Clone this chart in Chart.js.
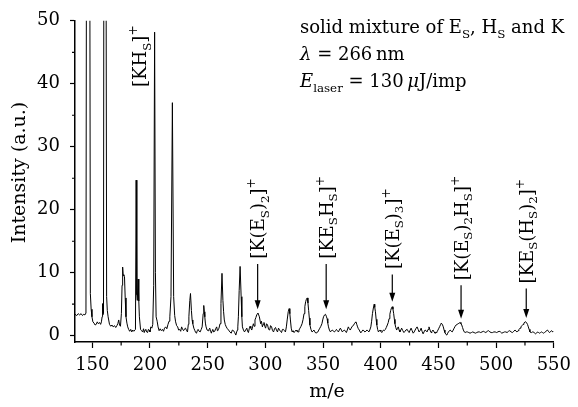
<!DOCTYPE html>
<html><head><meta charset="utf-8">
<script src="https://cdn.jsdelivr.net/npm/chart.js@4.4.1/dist/chart.umd.min.js"></script>
<style>html,body{margin:0;padding:0;background:#fff}#wrap{width:578px;height:407px}</style>
</head><body><div id="wrap"><canvas id="c" width="578" height="407"></canvas></div>
<script>
// ---- data ----
const xTicks = [150, 200, 250, 300, 350, 400, 450, 500, 550];
const xMinorTicks = [175, 225, 275, 325, 375, 425, 475, 525];
const yTicks = [0, 10, 20, 30, 40, 50];
const yMinorTicks = [5, 15, 25, 35, 45];

// [m/e, intensity] (off-scale peaks given as 100)
const spectrum = [
[135.0,3.4],[136.5,3.2],[137.8,3.5],[139.0,3.3],[140.3,3.5],[141.5,3.2],[142.6,3.4],[143.6,3.3],[144.5,3.6],
[145.2,100],[147.5,100],[148.3,6.7],[149.0,4.2],[149.7,3.0],[150.5,2.2],[151.5,2.0],[152.4,1.7],[153.4,1.8],
[154.3,2.2],[155.3,1.9],[156.3,2.1],[157.2,1.8],[157.9,2.2],[158.5,3.0],[158.9,5.1],[159.3,3.4],[159.7,3.5],
[160.2,100],[161.6,100],[162.4,6.2],[163.0,4.0],[163.7,3.0],[164.9,1.8],[166.0,1.5],[167.0,1.7],[168.1,1.4],
[169.2,1.6],[170.3,1.3],[171.3,1.6],[172.1,1.9],[172.9,2.5],[173.6,1.7],[174.4,1.5],[175.2,3.5],[175.8,8.0],
[176.3,10.9],[176.8,9.5],[177.3,9.7],[177.9,9.4],[178.5,6.0],[179.2,3.0],[180.0,2.0],[180.7,1.4],[181.5,1.0],
[182.4,0.7],[183.3,1.0],[184.2,0.6],[185.1,0.9],[186.0,0.7],[186.9,0.9],[187.4,1.0],[188.0,24.7],[188.6,6.5],
[189.0,5.6],[189.7,9.0],[190.3,5.5],[190.8,3.0],[191.8,1.0],[192.7,0.8],[193.6,0.6],[194.4,1.1],[195.0,0.5],
[195.8,0.9],[196.4,1.0],[197.1,0.6],[197.9,0.5],[198.6,1.0],[199.3,0.9],[200.0,0.6],[200.7,1.4],[201.6,1.2],
[202.4,1.8],[203.2,8.0],[204.0,48.2],[204.7,10.0],[205.3,3.0],[206.2,2.3],[207.0,1.4],[207.9,0.8],[208.8,1.1],
[209.8,0.8],[210.8,1.0],[211.7,0.7],[212.6,1.2],[213.6,1.4],[214.6,1.1],[215.6,1.8],[216.5,2.3],[217.2,3.0],
[218.2,6.2],[219.4,37.0],[220.5,6.2],[221.4,3.2],[222.2,2.2],[223.1,1.6],[224.0,1.4],[224.8,0.9],[225.7,1.0],
[226.6,0.7],[227.4,1.4],[228.3,1.0],[229.1,0.8],[230.0,1.1],[230.8,1.2],[231.7,0.8],[232.5,0.6],[233.2,1.8],
[233.7,3.0],[234.5,5.6],[235.1,6.7],[235.9,4.0],[236.5,2.5],[237.1,1.9],[238.0,1.2],[238.9,0.8],[239.6,0.5],
[240.3,0.4],[241.0,0.8],[241.7,1.0],[242.6,0.7],[243.5,0.6],[244.4,1.0],[245.2,1.4],[246.1,3.5],[246.6,4.8],
[247.1,3.8],[247.5,3.0],[248.0,2.0],[248.6,1.4],[249.5,0.9],[250.4,0.8],[251.1,1.0],[251.8,1.2],[252.5,0.7],
[253.2,0.4],[253.8,0.8],[254.4,1.0],[255.2,0.6],[256.1,0.7],[256.9,1.1],[257.8,1.4],[258.4,0.8],[258.9,0.9],
[259.8,1.2],[260.7,1.9],[261.5,5.1],[262.4,9.9],[263.2,5.6],[263.8,3.8],[264.4,2.5],[265.2,1.8],[266.1,1.4],
[267.1,1.1],[268.1,0.9],[269.2,0.6],[270.4,0.4],[271.4,0.9],[272.4,0.8],[273.4,0.5],[274.4,0.1],[275.1,0.6],
[275.8,0.9],[276.1,1.4],[276.6,3.0],[277.3,7.2],[278.1,11.0],[279.0,6.2],[279.6,3.0],[280.1,1.4],[281.0,0.9],
[281.9,0.6],[282.9,0.9],[283.9,1.2],[284.6,0.7],[285.3,0.5],[286.0,1.1],[286.7,1.5],[287.4,1.2],[288.2,0.9],
[288.9,1.4],[289.6,1.9],[290.3,1.5],[291.0,2.5],[291.8,2.9],[292.5,3.3],[293.6,3.6],[294.2,3.3],[294.8,3.0],
[295.9,1.9],[296.6,2.3],[297.4,1.4],[298.1,1.8],[298.8,2.1],[299.5,1.5],[300.2,1.2],[301.0,1.9],[301.9,1.7],
[302.8,1.0],[303.7,0.9],[304.5,1.6],[305.4,1.4],[306.2,0.8],[307.1,0.6],[307.9,1.1],[308.8,1.3],[309.6,0.9],
[310.5,0.6],[311.4,1.2],[312.3,0.9],[313.1,0.7],[314.0,0.5],[314.8,1.0],[315.7,1.0],[316.5,0.8],[317.4,0.6],
[318.2,1.4],[318.9,2.5],[319.8,3.8],[320.6,4.3],[321.2,3.5],[321.7,2.5],[322.4,1.2],[323.2,0.6],[324.0,0.8],
[324.9,0.5],[325.7,0.7],[326.6,0.9],[327.4,0.7],[328.3,0.6],[329.1,0.9],[330.0,1.2],[330.9,1.5],[331.8,1.9],
[332.7,2.6],[333.5,3.5],[334.2,4.6],[334.9,5.4],[335.6,5.8],[336.3,6.0],[336.9,5.2],[337.5,4.0],[338.1,2.8],
[338.6,1.7],[339.5,1.0],[340.4,0.6],[341.2,0.7],[342.1,0.9],[342.9,0.6],[343.8,0.4],[344.6,0.5],[345.5,0.6],
[346.3,0.9],[347.2,1.2],[348.1,1.5],[349.0,1.9],[349.7,2.5],[350.4,3.0],[351.3,3.3],[352.1,3.4],[352.8,3.1],
[353.5,2.7],[354.1,2.0],[354.7,1.4],[355.5,0.9],[356.4,0.6],[357.2,0.8],[358.1,0.9],[359.0,0.7],[359.9,0.6],
[360.8,0.8],[361.6,1.0],[362.4,0.8],[363.3,0.6],[364.1,0.9],[365.0,1.2],[365.9,0.9],[366.7,0.6],[367.6,0.8],
[368.5,0.9],[369.3,0.7],[370.2,0.5],[371.0,0.9],[371.9,1.4],[372.7,1.1],[373.6,0.9],[374.4,1.2],[375.3,1.5],
[376.2,1.6],[377.1,1.9],[377.8,2.1],[378.5,2.2],[379.2,1.8],[379.9,1.4],[380.6,1.1],[381.4,0.9],[382.1,0.6],
[382.8,0.5],[383.7,0.7],[384.5,0.9],[385.4,0.8],[386.2,0.6],[387.1,0.7],[388.0,0.9],[388.8,0.8],[389.7,0.6],
[390.5,0.9],[391.4,1.4],[392.1,2.3],[392.8,3.5],[393.6,4.4],[394.3,5.0],[394.8,4.5],[395.4,3.8],[396.0,2.6],
[396.6,1.7],[397.3,1.0],[398.0,0.6],[398.7,0.8],[399.4,0.9],[400.1,0.7],[400.9,0.5],[401.6,0.7],[402.3,0.9],
[403.1,0.8],[404.0,1.0],[404.8,1.3],[405.7,1.7],[406.5,2.1],[407.2,2.7],[407.9,3.4],[408.6,4.0],[409.3,4.4],
[410.0,4.6],[410.6,4.2],[411.2,3.5],[411.8,2.6],[412.3,1.9],[413.0,1.3],[413.8,0.9],[414.5,1.2],[415.2,1.4],
[415.9,0.9],[416.6,0.6],[417.4,0.9],[418.1,1.2],[419.1,0.8],[420.1,0.5],[421.0,0.7],[421.8,0.9],[422.9,1.0],
[423.8,0.7],[424.6,0.5],[425.5,0.9],[426.3,1.2],[427.2,0.8],[428.1,0.4],[429.0,0.6],[429.8,0.9],[430.7,1.2],
[431.5,1.4],[432.4,1.0],[433.2,0.6],[434.1,0.8],[435.0,1.2],[435.8,0.7],[436.7,0.3],[437.5,0.6],[438.4,0.9],
[439.3,0.8],[440.1,0.6],[441.0,1.0],[441.8,1.4],[442.7,0.9],[443.6,0.5],[444.4,0.7],[445.3,0.9],[446.2,0.6],
[447.0,0.4],[447.9,0.5],[448.7,0.6],[449.6,0.9],[450.4,1.2],[451.2,1.5],[451.9,1.8],[452.5,2.0],[453.0,2.0],
[453.6,1.7],[454.2,1.4],[454.9,0.9],[455.6,0.5],[456.5,0.2],[457.3,0.1],[458.0,0.4],[458.7,0.6],[459.5,0.8],
[460.2,0.9],[461.1,0.7],[461.9,0.6],[462.8,0.9],[463.6,1.2],[464.5,1.5],[465.3,1.7],[466.2,1.8],[467.1,1.9],
[468.0,2.0],[468.8,2.1],[469.5,1.9],[470.2,1.7],[470.9,1.3],[471.6,0.9],[472.4,0.6],[473.1,0.5],[474.1,0.6],
[475.1,0.6],[476.3,0.5],[477.4,0.4],[478.6,0.5],[479.7,0.6],[480.9,0.5],[482.0,0.4],[483.2,0.5],[484.3,0.6],
[485.5,0.6],[486.6,0.5],[487.8,0.6],[488.9,0.7],[490.0,0.6],[491.1,0.5],[492.3,0.7],[493.4,0.8],[494.6,0.6],
[495.7,0.5],[496.9,0.5],[498.0,0.6],[499.2,0.6],[500.3,0.5],[501.5,0.6],[502.6,0.7],[503.8,0.6],[504.9,0.4],
[506.1,0.5],[507.2,0.6],[508.4,0.6],[509.5,0.5],[510.7,0.7],[511.8,0.8],[513.0,0.6],[514.1,0.5],[515.3,0.7],
[516.4,0.9],[517.3,0.7],[518.1,0.6],[519.0,0.8],[519.8,1.0],[520.7,1.2],[521.5,1.4],[522.4,1.6],[523.3,1.8],
[524.1,2.0],[525.0,2.2],[525.7,2.2],[526.4,2.05],[527.2,1.8],[527.9,1.4],[528.6,1.0],[529.3,0.6],[530.0,0.5],
[530.7,0.5],[531.6,0.6],[532.4,0.6],[533.3,0.4],[534.2,0.3],[535.0,0.4],[535.9,0.6],[536.8,0.5],[537.6,0.4],
[538.5,0.5],[539.3,0.6],[540.2,0.5],[541.0,0.4],[541.9,0.5],[542.8,0.6],[543.6,0.8],[544.5,0.9],[545.3,0.7],
[546.2,0.5],[547.0,0.6],[547.9,0.8],[548.5,0.7],[549.1,0.6]
];

// peak assignments: m/e of the label, intensity where the label starts, arrow start/end intensities
const peakLabels = [
  { mz: 191.1, at: 39.5, parts: [['[KH'], ['S', 'sub'], [']'], ['+', 'sup']] },
  { mz: 293.3, at: 12.2, from: 11.4, to: 4.2, parts: [['[K(E'], ['S', 'sub'], [')'], ['2', 'sub'], [']'], ['+', 'sup']] },
  { mz: 352.7, at: 12.2, from: 11.4, to: 4.2, parts: [['[KE'], ['S', 'sub'], ['H'], ['S', 'sub'], [']'], ['+', 'sup']] },
  { mz: 410.0, at: 10.6, from: 9.7, to: 5.4, parts: [['[K(E'], ['S', 'sub'], [')'], ['3', 'sub'], [']'], ['+', 'sup']] },
  { mz: 469.6, at: 8.8, from: 8.0, to: 2.7, parts: [['[K(E'], ['S', 'sub'], [')'], ['2', 'sub'], ['H'], ['S', 'sub'], [']'], ['+', 'sup']] },
  { mz: 526.1, at: 8.3, from: 7.5, to: 2.8, parts: [['[KE'], ['S', 'sub'], ['(H'], ['S', 'sub'], [')'], ['2', 'sub'], [']'], ['+', 'sup']] }
];

const infoLines = [
  [['solid mixture of E'], ['S', 'sub'], [', H'], ['S', 'sub'], [' and K']],
  [['λ', 'i'], [' = 266\u2009nm']],
  [['E', 'i'], ['laser', 'sub'], [' = 130\u2009'], ['μ', 'i'], ['J/imp']]
];
const xTitle = 'm/e';
const yTitle = 'Intensity (a.u.)';

// ---- drawing ----
const FAM = '"DejaVu Serif", "Liberation Serif", serif';

function drawParts(ctx, x, y, parts, size) {
  let cx = x;
  for (const [txt, st] of parts) {
    let fs = size, dy = 0, it = false;
    if (st === 'sub') { fs = size * 0.66; dy = size * 0.26; }
    else if (st === 'sup') { fs = size * 0.68; dy = -size * 0.5; }
    else if (st === 'i') { it = true; }
    ctx.font = (it ? 'italic ' : '') + fs + 'px ' + FAM;
    ctx.fillText(txt, cx, y + dy);
    cx += ctx.measureText(txt).width;
  }
  return cx - x;
}

const decor = {
  id: 'decor',
  afterDraw(chart) {
    const ctx = chart.ctx, xs = chart.scales.x, ys = chart.scales.y;
    ctx.save();
    ctx.strokeStyle = '#000'; ctx.fillStyle = '#000';
    // minor ticks
    ctx.lineWidth = 1.2;
    ctx.beginPath();
    xMinorTicks.forEach(v => { const p = xs.getPixelForValue(v); ctx.moveTo(p, xs.top); ctx.lineTo(p, xs.top + 3.5); });
    yMinorTicks.forEach(v => { const p = ys.getPixelForValue(v); ctx.moveTo(ys.right, p); ctx.lineTo(ys.right - 3, p); });
    ctx.stroke();

    // axis titles
    ctx.textBaseline = 'middle'; ctx.textAlign = 'center';
    ctx.font = '19px ' + FAM;
    ctx.fillText(xTitle, 327, 392);
    ctx.save(); ctx.translate(20.5, 172.5); ctx.rotate(-Math.PI / 2); ctx.fillText(yTitle, 0, 0); ctx.restore();

    // info text
    ctx.textAlign = 'left'; ctx.textBaseline = 'alphabetic';
    infoLines.forEach((ln, i) => drawParts(ctx, 300, 33 + i * 27, ln, 18));

    // peak labels and arrows
    peakLabels.forEach(l => {
      const px = xs.getPixelForValue(l.mz);
      const py = ys.getPixelForValue(l.at);
      ctx.save();
      ctx.translate(px, py); ctx.rotate(-Math.PI / 2);
      drawParts(ctx, 0, 6.5, l.parts, 18);
      ctx.restore();
      if (l.from !== undefined) {
        const y1 = ys.getPixelForValue(l.from), y2 = ys.getPixelForValue(l.to);
        ctx.lineWidth = 1.2;
        ctx.beginPath(); ctx.moveTo(px, y1); ctx.lineTo(px, y2 - 6); ctx.stroke();
        ctx.beginPath(); ctx.moveTo(px, y2); ctx.lineTo(px - 3, y2 - 9); ctx.lineTo(px + 3, y2 - 9); ctx.closePath(); ctx.fill();
      }
    });
    ctx.restore();
  }
};

new Chart(document.getElementById('c'), {
  type: 'line',
  data: { datasets: [{ data: spectrum.map(p => ({ x: p[0], y: p[1] })), borderColor: '#000', borderWidth: 1, pointRadius: 0, tension: 0, fill: false }] },
  options: {
    responsive: false, animation: false, devicePixelRatio: 1,
    layout: { padding: { top: 18.7, right: 20.6, bottom: 0, left: 0 } },
    plugins: { legend: { display: false }, tooltip: { enabled: false }, title: { display: false } },
    scales: {
      x: {
        type: 'linear', min: 135, max: 550,
        afterBuildTicks(s) { s.ticks = xTicks.map(v => ({ value: v })); },
        afterFit(s) { s.height = 65; },
        grid: { drawOnChartArea: false, drawTicks: true, tickLength: 6, tickColor: '#000', tickWidth: 1.2 },
        border: { display: true, color: '#000', width: 1.5 },
        ticks: { color: '#000', font: { family: FAM, size: 18 }, padding: 7, maxRotation: 0, autoSkip: false }
      },
      y: {
        type: 'linear', min: -1, max: 50,
        afterBuildTicks(s) { s.ticks = yTicks.map(v => ({ value: v })); },
        afterFit(s) { s.width = 75; },
        grid: { drawOnChartArea: false, drawTicks: true, tickLength: 5, tickColor: '#000', tickWidth: 1.2 },
        border: { display: true, color: '#000', width: 1.5 },
        ticks: { color: '#000', font: { family: FAM, size: 18 }, padding: 10 }
      }
    }
  },
  plugins: [decor]
});
</script></body></html>
